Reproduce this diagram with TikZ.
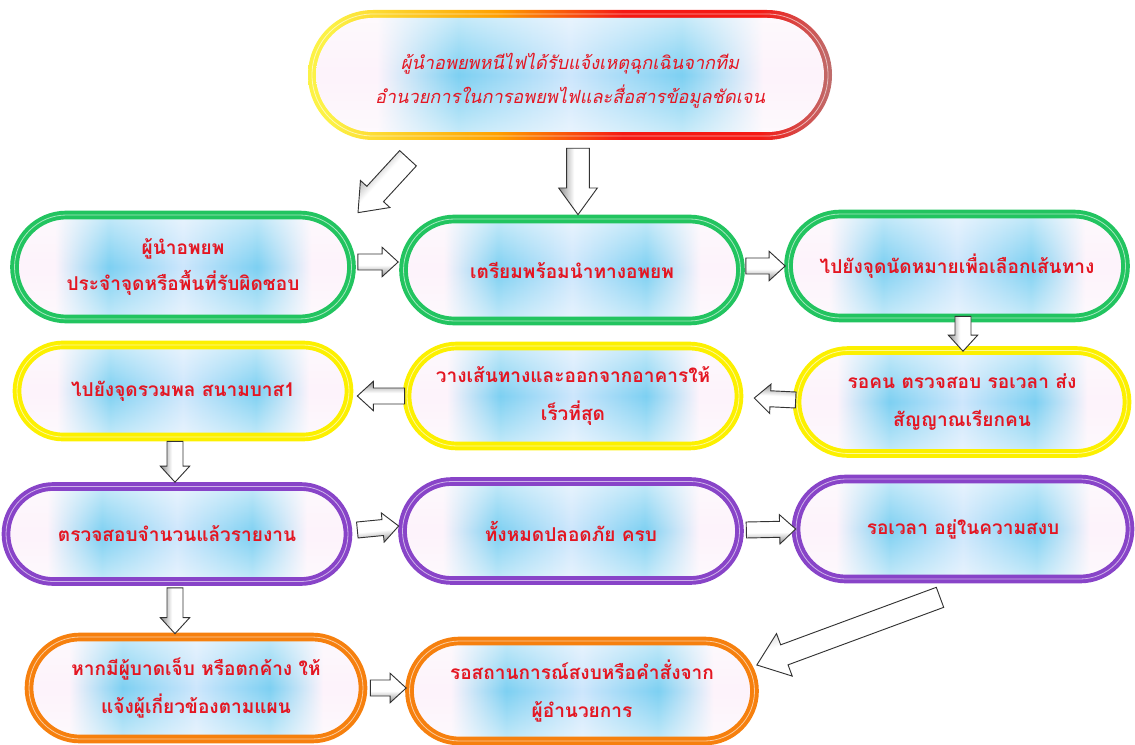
\documentclass[tikz,border=0pt]{standalone}
\usepackage{fontspec}
\newfontfamily\thaifont[Script=Thai]{Loma}
\usetikzlibrary{shapes.misc,calc,fadings}
\definecolor{thred}{RGB}{228,22,34}
\definecolor{pgreen}{RGB}{34,196,96}
\definecolor{pyellow}{RGB}{252,240,0}
\definecolor{ppurple}{RGB}{136,68,200}
\definecolor{porange}{RGB}{246,128,14}
\definecolor{pinkw}{RGB}{253,243,251}
\definecolor{skyb}{RGB}{125,208,242}
\definecolor{centb}{RGB}{205,230,252}
\definecolor{ringY}{RGB}{252,242,70}
\definecolor{ringO}{RGB}{255,160,0}
\definecolor{ringR}{RGB}{245,25,20}
\definecolor{ringB}{RGB}{190,110,110}
\pgfdeclarehorizontalshading{bluebox}{100bp}{color(0bp)=(pinkw); color(31bp)=(pinkw); color(39bp)=(skyb); color(50bp)=(centb); color(61bp)=(skyb); color(69bp)=(pinkw); color(100bp)=(pinkw)}
\pgfdeclarehorizontalshading{ringgrad}{100bp}{color(0bp)=(ringY); color(27bp)=(ringY); color(43bp)=(ringO); color(55bp)=(ringR); color(68bp)=(ringR); color(75bp)=(ringB); color(100bp)=(ringB)}
\pgfdeclareverticalshading{arrshade}{100bp}{color(0bp)=(black!38); color(28bp)=(black!38); color(45bp)=(white); color(100bp)=(white)}
\tikzfading[name=vfade, top color=transparent!45, bottom color=transparent!45, middle color=transparent!100]
\newcommand\blkarrow[5]{%
  \path (#4); \pgfgetlastxy\blkxa\blkya
  \path (#5); \pgfgetlastxy\blkxb\blkyb
  \pgfmathsetmacro\blkang{atan2(\blkyb-\blkya,\blkxb-\blkxa)}%
  \pgfmathsetmacro\blklen{veclen(\blkxb-\blkxa,\blkyb-\blkya)}%
  \draw[blockarr, shift={(#4)}, rotate=\blkang, shading angle=\blkang]
    (0pt,-#1pt) -- ({\blklen pt-#3pt},-#1pt) -- ({\blklen pt-#3pt},-#2pt) -- (\blklen pt,0pt)
    -- ({\blklen pt-#3pt},#2pt) -- ({\blklen pt-#3pt},#1pt) -- (0pt,#1pt) -- cycle;}
\tikzset{
  sz/.style 2 args={minimum width={#1*0.75pt}, minimum height={#2*0.75pt}},
  pill/.style={rounded rectangle, inner sep=0pt, draw=#1, line width=6.5pt,
    preaction={shade, shading=bluebox},
    preaction={fill=white, path fading=vfade},
    postaction={draw=white, line width=0.6pt, opacity=0.6},
    text=thred, align=center,
    font=\thaifont\bfseries\fontsize{14.3}{27}\selectfont},
  blockarr/.style={draw=black!80, line width=0.7pt, shade, shading=arrshade, line join=miter},
}
\begin{document}
\begin{tikzpicture}[x=0.75pt,y=-0.75pt]
\useasboundingbox (0,0) rectangle (1135,745);
% top box
\node[rounded rectangle, inner sep=0pt, sz={524}{130}, shade, shading=ringgrad] (topring) at (570,75) {};
\node[rounded rectangle, inner sep=0pt, sz={508}{114},
      preaction={shade, shading=bluebox}, preaction={fill=white, path fading=vfade},
      text=thred, align=center, font=\thaifont\itshape\fontsize{13.6}{25.5}\selectfont] (top) at (570,75) {};
\node[text=thred, align=center, font=\thaifont\itshape\fontsize{13.6}{25.5}\selectfont] (toptext) at (570,81)
  {ผู้นำอพยพหนีไฟได้รับแจ้งเหตุฉุกเฉินจากทีม\\อำนวยการในการอพยพไฟและสื่อสารข้อมูลชัดเจน};
\node[rounded rectangle, inner sep=0pt, sz={516}{122}, draw=white, line width=0.6pt, opacity=0.6] (topline) at (570,75) {};
% row 1
\node[pill=pgreen, sz={337}{104}] (box1) at (183,267) {ผู้นำอพยพ\\ประจำจุดหรือพื้นที่รับผิดชอบ};
\node[pill=pgreen, sz={337}{102}] (box2) at (572,270) {เตรียมพร้อมนำทางอพยพ};
\node[pill=pgreen, sz={337}{104}] (box3) at (957,266) {ไปยังจุดนัดหมายเพื่อเลือกเส้นทาง};
% row 2
\node[pill=pyellow, sz={332}{92}] (box4) at (183,391) {ไปยังจุดรวมพล  สนามบาส1};
\node[pill=pyellow, sz={332}{100}] (box5) at (573,396) {วางเส้นทางและออกจากอาคารให้\\[2pt]เร็วที่สุด};
\node[pill=pyellow, sz={330}{103}] (box6) at (962,402) {รอคน ตรวจสอบ รอเวลา ส่ง\\[2pt]สัญญาณเรียกคน};
% row 3
\node[pill=ppurple, sz={342}{95}] (box7) at (177,534) {ตรวจสอบจำนวนแล้วรายงาน};
\node[pill=ppurple, sz={337}{99}] (box8) at (571,531) {ทั้งหมดปลอดภัย  ครบ};
\node[pill=ppurple, sz={334}{100}] (box9) at (963,529) {รอเวลา อยู่ในความสงบ};
% row 4
\node[pill=porange, sz={334}{102}] (box10) at (196,688) {หากมีผู้บาดเจ็บ  หรือตกค้าง ให้\\[2pt]แจ้งผู้เกี่ยวข้องตามแผน};
\node[pill=porange, sz={345}{100}] (box11) at (582,691) {รอสถานการณ์สงบหรือคำสั่งจาก\\[2pt]ผู้อำนวยการ};
% arrow end points
\coordinate (a1s) at ($(topring.south)+(-162,18)$);
\coordinate (a1e) at ($(box1.north)+(175,2)$);
\coordinate (a2s) at ($(topring.south)+(8,8)$);
\coordinate (a2e) at ($(box2.north)+(6,0)$);
\coordinate (a3s) at ($(box1.east)+(2,-5)$);
\coordinate (a3e) at ($(box2.west)+(-1,-8)$);
\coordinate (a4s) at ($(box2.east)+(1,-4)$);
\coordinate (a4e) at ($(box3.west)+(1,0)$);
\coordinate (a5s) at ($(box3.south)+(6,-6)$);
\coordinate (a5e) at ($(box6.north)+(1,5)$);
\coordinate (a6s) at ($(box6.west)+(3,-2)$);
\coordinate (a6e) at ($(box5.east)+(11,2)$);
\coordinate (a7s) at ($(box5.west)+(2,0)$);
\coordinate (a7e) at ($(box4.east)+(4,5)$);
\coordinate (a8s) at ($(box4.south)+(-8,0)$);
\coordinate (a8e) at ($(box7.north)+(-2,0)$);
\coordinate (a9s) at ($(box7.east)+(5,-4)$);
\coordinate (a9e) at ($(box8.west)+(0.5,-5)$);
\coordinate (a10s) at ($(box8.east)+(2.5,-1)$);
\coordinate (a10e) at ($(box9.west)+(4,0)$);
\coordinate (a11s) at ($(box7.south)+(-2,2)$);
\coordinate (a11e) at ($(box10.north)+(-21,1)$);
\coordinate (a12s) at ($(box10.east)+(3,0)$);
\coordinate (a12e) at ($(box11.west)+(1,-3)$);
\coordinate (a13s) at ($(box9.south)+(-23,14)$);
\coordinate (a13e) at ($(box11.east)+(-2,-26)$);
% arrows
\blkarrow{8.5}{15}{19}{a1s}{a1e}
\blkarrow{8.5}{14.5}{20}{a2s}{a2e}
\blkarrow{6}{11}{12}{a3s}{a3e}
\blkarrow{6}{11}{12}{a4s}{a4e}
\blkarrow{6}{11}{12}{a5s}{a5e}
\blkarrow{6}{11}{12}{a6s}{a6e}
\blkarrow{6}{11}{12}{a7s}{a7e}
\blkarrow{6}{11}{12}{a8s}{a8e}
\blkarrow{6}{11}{12}{a9s}{a9e}
\blkarrow{6}{11}{12}{a10s}{a10e}
\blkarrow{6}{11}{12}{a11s}{a11e}
\blkarrow{6}{11}{12}{a12s}{a12e}
\blkarrow{8}{17}{22}{a13s}{a13e}
\end{tikzpicture}
\end{document}
